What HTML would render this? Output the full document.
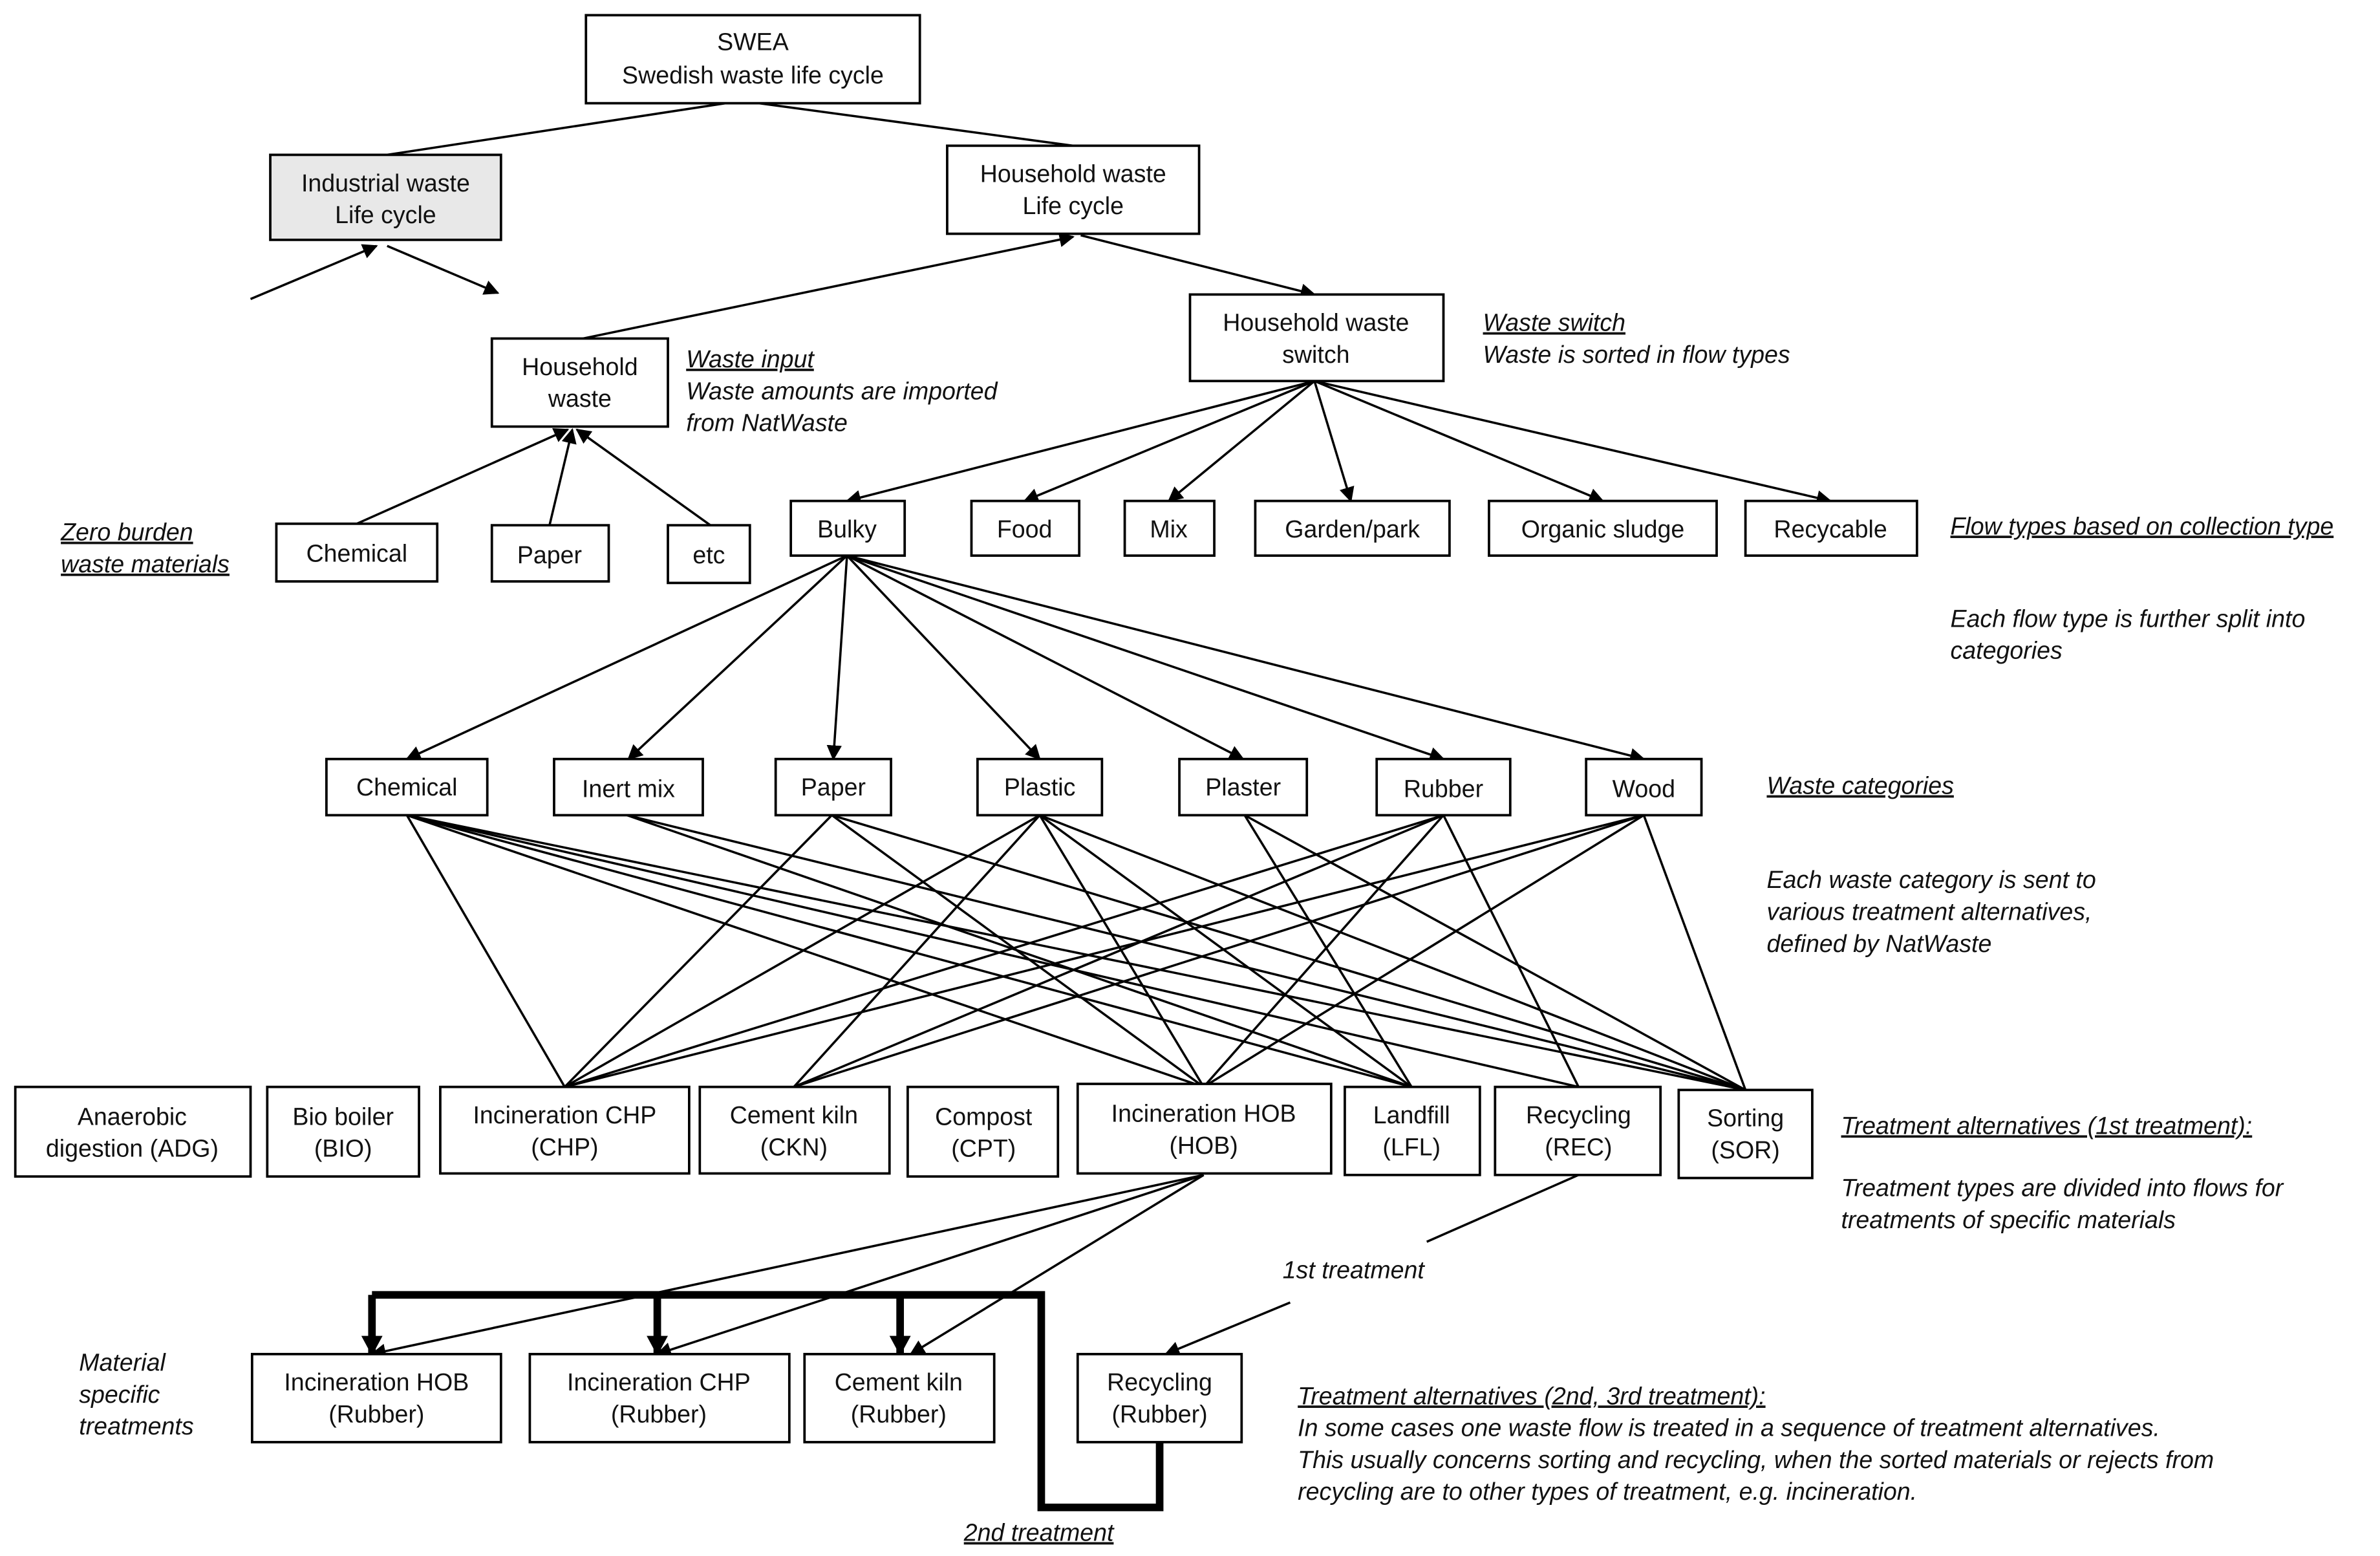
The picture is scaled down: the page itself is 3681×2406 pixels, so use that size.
<!DOCTYPE html>
<html><head><meta charset="utf-8"><style>
html,body{margin:0;padding:0;background:#fff;}
svg{display:block;}
text{font-family:"Liberation Sans",Arial,sans-serif;font-size:16px;fill:#111;}
.b{fill:#fff;stroke:#000;stroke-width:1.6;}
.i{font-style:italic;}
.u{text-decoration:underline;}
.l{stroke:#000;stroke-width:1.5;fill:none;}
</style></head><body>
<svg width="3681" height="2406" viewBox="0 0 1568 1025" xmlns="http://www.w3.org/2000/svg">
<defs>
<marker id="a" markerWidth="10" markerHeight="10" refX="9" refY="5" orient="auto" markerUnits="userSpaceOnUse"><path d="M0,0 L10,5 L0,10 z" fill="#000"/></marker>
<marker id="t" markerWidth="14" markerHeight="14" refX="12" refY="7" orient="auto" markerUnits="userSpaceOnUse"><path d="M0,0 L13,7 L0,14 z" fill="#000"/></marker>
</defs>
<g class="l">
<line x1="478" y1="68" x2="255" y2="102"/>
<line x1="500" y1="68" x2="707" y2="96"/>
<line x1="165" y1="197" x2="248" y2="162" marker-end="url(#a)"/>
<line x1="255" y1="162" x2="328" y2="193" marker-end="url(#a)"/>
<line x1="384" y1="223" x2="707" y2="156" marker-end="url(#a)"/>
<line x1="712" y1="155" x2="866" y2="194" marker-end="url(#a)"/>
<line x1="235" y1="345" x2="374" y2="283" marker-end="url(#a)"/>
<line x1="362" y1="346" x2="377" y2="283" marker-end="url(#a)"/>
<line x1="468" y1="346" x2="380" y2="283" marker-end="url(#a)"/>
<line x1="866" y1="251" x2="558" y2="330" marker-end="url(#a)"/>
<line x1="866" y1="251" x2="675" y2="330" marker-end="url(#a)"/>
<line x1="866" y1="251" x2="770" y2="330" marker-end="url(#a)"/>
<line x1="866" y1="251" x2="890" y2="330" marker-end="url(#a)"/>
<line x1="866" y1="251" x2="1056" y2="330" marker-end="url(#a)"/>
<line x1="866" y1="251" x2="1206" y2="330" marker-end="url(#a)"/>
<line x1="558" y1="366" x2="268" y2="500" marker-end="url(#a)"/>
<line x1="558" y1="366" x2="414" y2="500" marker-end="url(#a)"/>
<line x1="558" y1="366" x2="549" y2="500" marker-end="url(#a)"/>
<line x1="558" y1="366" x2="685" y2="500" marker-end="url(#a)"/>
<line x1="558" y1="366" x2="819" y2="500" marker-end="url(#a)"/>
<line x1="558" y1="366" x2="951" y2="500" marker-end="url(#a)"/>
<line x1="558" y1="366" x2="1083" y2="500" marker-end="url(#a)"/>
<!-- categories to treatments -->
<line x1="268" y1="537" x2="372" y2="716"/>
<line x1="268" y1="537" x2="793" y2="716"/>
<line x1="268" y1="537" x2="930" y2="716"/>
<line x1="268" y1="537" x2="1040" y2="716"/>
<line x1="268" y1="537" x2="1150" y2="718"/>
<line x1="413" y1="537" x2="930" y2="716"/>
<line x1="413" y1="537" x2="1150" y2="718"/>
<line x1="548" y1="537" x2="372" y2="716"/>
<line x1="548" y1="537" x2="793" y2="716"/>
<line x1="548" y1="537" x2="1150" y2="718"/>
<line x1="685" y1="537" x2="372" y2="716"/>
<line x1="685" y1="537" x2="523" y2="716"/>
<line x1="685" y1="537" x2="793" y2="716"/>
<line x1="685" y1="537" x2="930" y2="716"/>
<line x1="685" y1="537" x2="1150" y2="718"/>
<line x1="820" y1="537" x2="930" y2="716"/>
<line x1="820" y1="537" x2="1150" y2="718"/>
<line x1="951" y1="537" x2="372" y2="716"/>
<line x1="951" y1="537" x2="523" y2="716"/>
<line x1="951" y1="537" x2="793" y2="716"/>
<line x1="951" y1="537" x2="1040" y2="716"/>
<line x1="1083" y1="537" x2="372" y2="716"/>
<line x1="1083" y1="537" x2="523" y2="716"/>
<line x1="1083" y1="537" x2="793" y2="716"/>
<line x1="1083" y1="537" x2="1150" y2="718"/>
<!-- HOB to rubber -->
<line x1="793" y1="774" x2="245" y2="892" marker-end="url(#a)"/>
<line x1="793" y1="774" x2="433" y2="892" marker-end="url(#a)"/>
<line x1="793" y1="774" x2="600" y2="892" marker-end="url(#a)"/>
<line x1="1040" y1="774" x2="940" y2="818"/>
<line x1="850" y1="858" x2="768" y2="892" marker-end="url(#a)"/>
</g>
<g stroke="#000" stroke-width="5" fill="none">
<polyline points="764,950 764,993 686,993 686,853 245,853"/>
<line x1="245" y1="853" x2="245" y2="892" marker-end="url(#t)"/>
<line x1="433" y1="853" x2="433" y2="892" marker-end="url(#t)"/>
<line x1="593" y1="853" x2="593" y2="892" marker-end="url(#t)"/>
</g>
<!-- boxes -->
<rect class="b" x="386" y="10" width="220" height="58"/>
<text x="496" y="33" text-anchor="middle">SWEA</text><text x="496" y="55" text-anchor="middle">Swedish waste life cycle</text>
<rect class="b" x="178" y="102" width="152" height="56" style="fill:#e8e8e8"/>
<text x="254" y="126" text-anchor="middle">Industrial waste</text><text x="254" y="147" text-anchor="middle">Life cycle</text>
<rect class="b" x="624" y="96" width="166" height="58"/>
<text x="707" y="120" text-anchor="middle">Household  waste</text><text x="707" y="141" text-anchor="middle">Life cycle</text>
<rect class="b" x="324" y="223" width="116" height="58"/>
<text x="382" y="247" text-anchor="middle">Household</text><text x="382" y="268" text-anchor="middle">waste</text>
<rect class="b" x="784" y="194" width="167" height="57"/>
<text x="867" y="218" text-anchor="middle">Household  waste</text><text x="867" y="239" text-anchor="middle">switch</text>
<rect class="b" x="182" y="345" width="106" height="38"/><text x="235" y="370" text-anchor="middle">Chemical</text>
<rect class="b" x="324" y="346" width="77" height="37"/><text x="362" y="371" text-anchor="middle">Paper</text>
<rect class="b" x="440" y="346" width="54" height="38"/><text x="467" y="371" text-anchor="middle">etc</text>
<rect class="b" x="521" y="330" width="75" height="36"/><text x="558" y="354" text-anchor="middle">Bulky</text>
<rect class="b" x="640" y="330" width="71" height="36"/><text x="675" y="354" text-anchor="middle">Food</text>
<rect class="b" x="741" y="330" width="59" height="36"/><text x="770" y="354" text-anchor="middle">Mix</text>
<rect class="b" x="827" y="330" width="128" height="36"/><text x="891" y="354" text-anchor="middle">Garden/park</text>
<rect class="b" x="981" y="330" width="150" height="36"/><text x="1056" y="354" text-anchor="middle">Organic sludge</text>
<rect class="b" x="1150" y="330" width="113" height="36"/><text x="1206" y="354" text-anchor="middle">Recycable</text>
<rect class="b" x="215" y="500" width="106" height="37"/><text x="268" y="524" text-anchor="middle">Chemical</text>
<rect class="b" x="365" y="500" width="98" height="37"/><text x="414" y="525" text-anchor="middle">Inert mix</text>
<rect class="b" x="511" y="500" width="76" height="37"/><text x="549" y="524" text-anchor="middle">Paper</text>
<rect class="b" x="644" y="500" width="82" height="37"/><text x="685" y="524" text-anchor="middle">Plastic</text>
<rect class="b" x="777" y="500" width="84" height="37"/><text x="819" y="524" text-anchor="middle">Plaster</text>
<rect class="b" x="907" y="500" width="88" height="37"/><text x="951" y="525" text-anchor="middle">Rubber</text>
<rect class="b" x="1045" y="500" width="76" height="37"/><text x="1083" y="525" text-anchor="middle">Wood</text>
<rect class="b" x="10" y="716" width="155" height="59"/><text x="87" y="741" text-anchor="middle">Anaerobic</text><text x="87" y="762" text-anchor="middle">digestion  (ADG)</text>
<rect class="b" x="176" y="716" width="100" height="59"/><text x="226" y="741" text-anchor="middle">Bio boiler</text><text x="226" y="762" text-anchor="middle">(BIO)</text>
<rect class="b" x="290" y="716" width="164" height="57"/><text x="372" y="740" text-anchor="middle">Incineration CHP</text><text x="372" y="761" text-anchor="middle">(CHP)</text>
<rect class="b" x="461" y="716" width="125" height="57"/><text x="523" y="740" text-anchor="middle">Cement kiln</text><text x="523" y="761" text-anchor="middle">(CKN)</text>
<rect class="b" x="598" y="716" width="99" height="59"/><text x="648" y="741" text-anchor="middle">Compost</text><text x="648" y="762" text-anchor="middle">(CPT)</text>
<rect class="b" x="710" y="714" width="167" height="59"/><text x="793" y="739" text-anchor="middle">Incineration HOB</text><text x="793" y="760" text-anchor="middle">(HOB)</text>
<rect class="b" x="886" y="716" width="89" height="58"/><text x="930" y="740" text-anchor="middle">Landfill</text><text x="930" y="761" text-anchor="middle">(LFL)</text>
<rect class="b" x="985" y="716" width="109" height="58"/><text x="1040" y="740" text-anchor="middle">Recycling</text><text x="1040" y="761" text-anchor="middle">(REC)</text>
<rect class="b" x="1106" y="718" width="88" height="58"/><text x="1150" y="742" text-anchor="middle">Sorting</text><text x="1150" y="763" text-anchor="middle">(SOR)</text>
<rect class="b" x="166" y="892" width="164" height="58"/><text x="248" y="916" text-anchor="middle">Incineration HOB</text><text x="248" y="937" text-anchor="middle">(Rubber)</text>
<rect class="b" x="349" y="892" width="171" height="58"/><text x="434" y="916" text-anchor="middle">Incineration CHP</text><text x="434" y="937" text-anchor="middle">(Rubber)</text>
<rect class="b" x="530" y="892" width="125" height="58"/><text x="592" y="916" text-anchor="middle">Cement kiln</text><text x="592" y="937" text-anchor="middle">(Rubber)</text>
<rect class="b" x="710" y="892" width="108" height="58"/><text x="764" y="916" text-anchor="middle">Recycling</text><text x="764" y="937" text-anchor="middle">(Rubber)</text>
<!-- annotations -->
<g class="i">
<text x="452" y="242" class="u">Waste input</text>
<text x="452" y="263">Waste amounts are imported</text>
<text x="452" y="284">from NatWaste</text>
<text x="977" y="218" class="u">Waste switch</text>
<text x="977" y="239">Waste is sorted in flow types</text>
<text x="40" y="356" class="u">Zero burden</text>
<text x="40" y="377" class="u">waste materials</text>
<text x="1285" y="352" class="u">Flow types based on collection type</text>
<text x="1285" y="413">Each flow type is further split into</text>
<text x="1285" y="434">categories</text>
<text x="1164" y="523" class="u">Waste categories</text>
<text x="1164" y="585">Each waste category is sent to</text>
<text x="1164" y="606">various treatment alternatives,</text>
<text x="1164" y="627">defined by NatWaste</text>
<text x="1213" y="747" class="u">Treatment alternatives (1st treatment):</text>
<text x="1213" y="788">Treatment types are divided into flows for</text>
<text x="1213" y="809">treatments of specific materials</text>
<text x="845" y="842">1st treatment</text>
<text x="52" y="903">Material</text>
<text x="52" y="924">specific</text>
<text x="52" y="945">treatments</text>
<text x="855" y="925" class="u">Treatment alternatives (2nd, 3rd treatment):</text>
<text x="855" y="946">In some cases one waste flow is treated in a sequence of treatment alternatives.</text>
<text x="855" y="967">This usually concerns sorting and recycling, when the sorted materials or rejects from</text>
<text x="855" y="988">recycling are to other types of treatment, e.g. incineration.</text>
<text x="635" y="1015" class="u">2nd treatment</text>
</g>
</svg>
</body></html>
